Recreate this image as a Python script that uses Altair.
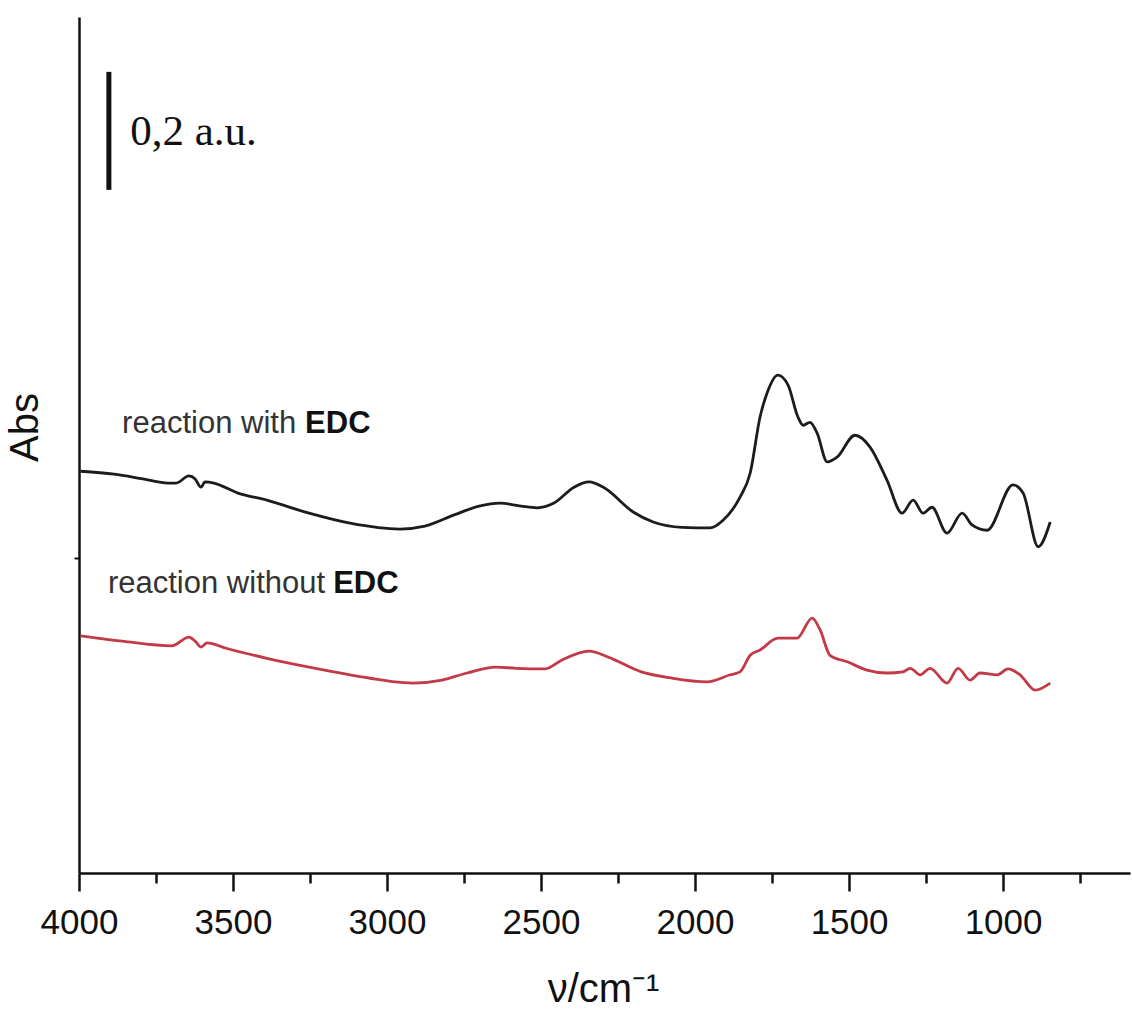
import altair as alt
import pandas as pd

# ---- data ----
black_nu = [3995, 3886, 3792, 3711, 3685, 3643, 3623, 3604, 3591, 3562, 3484, 3390, 3253, 3120,
            2958, 2877, 2782, 2701, 2633, 2565, 2513, 2458, 2393, 2344, 2295, 2201, 2136, 2042,
            1951, 1909, 1854, 1821, 1789, 1766, 1731, 1698, 1666, 1649, 1627, 1604, 1571, 1539,
            1481, 1432, 1377, 1328, 1292, 1260, 1231, 1182, 1133, 1101, 1052, 968, 935, 886, 847]
black_abs = [0.681, 0.676, 0.668, 0.661, 0.661, 0.673, 0.668, 0.654, 0.663, 0.661, 0.644, 0.632,
             0.610, 0.593, 0.583, 0.588, 0.607, 0.622, 0.627, 0.622, 0.619, 0.627, 0.654, 0.663,
             0.653, 0.612, 0.595, 0.586, 0.585, 0.598, 0.637, 0.678, 0.773, 0.814, 0.844, 0.827,
             0.773, 0.759, 0.764, 0.746, 0.697, 0.705, 0.742, 0.722, 0.666, 0.610, 0.632, 0.610,
             0.620, 0.576, 0.610, 0.590, 0.581, 0.658, 0.644, 0.553, 0.595]

red_nu = [3995, 3860, 3698, 3643, 3623, 3604, 3584, 3523, 3390, 3253, 3120, 2916, 2821, 2740,
          2646, 2581, 2487, 2432, 2344, 2282, 2175, 2081, 1961, 1886, 1854, 1821, 1789, 1731,
          1669, 1620, 1594, 1562, 1506, 1442, 1377, 1325, 1302, 1269, 1237, 1182, 1146, 1107,
          1075, 1019, 984, 945, 896, 847]
red_abs = [0.402, 0.393, 0.385, 0.400, 0.393, 0.383, 0.390, 0.381, 0.364, 0.349, 0.336, 0.322,
           0.327, 0.339, 0.349, 0.347, 0.346, 0.361, 0.376, 0.366, 0.341, 0.331, 0.324, 0.336,
           0.341, 0.369, 0.378, 0.398, 0.398, 0.432, 0.412, 0.369, 0.358, 0.344, 0.339, 0.341,
           0.347, 0.336, 0.347, 0.322, 0.347, 0.327, 0.339, 0.336, 0.346, 0.336, 0.310, 0.322]

major_ticks = [4000, 3500, 3000, 2500, 2000, 1500, 1000]
minor_ticks = [3750, 3250, 2750, 2250, 1750, 1250, 750]

label_text = ["reaction with", "reaction without"]
label_nu = [3860, 3906]
label_abs = [0.746, 0.475]
bold_text = ["EDC", "EDC"]
bold_nu = [3266, 3175]

scalebar_nu = [3903]
scalebar_lo = [1.158]
scalebar_hi = [1.358]
scalebar_text = ["0,2 a.u."]
scalebar_text_nu = [3834]
scalebar_text_abs = [1.256]

# ---- tables ----
spec = pd.DataFrame(
    {"nu": black_nu + red_nu,
     "abs": black_abs + red_abs,
     "series": ["with"] * len(black_nu) + ["without"] * len(red_nu)}
)
labels = pd.DataFrame({"nu": label_nu, "abs": label_abs, "text": label_text})
bolds = pd.DataFrame({"nu": bold_nu, "abs": label_abs, "text": bold_text})
bar = pd.DataFrame({"nu": scalebar_nu, "lo": scalebar_lo, "hi": scalebar_hi})
bar_txt = pd.DataFrame({"nu": scalebar_text_nu, "abs": scalebar_text_abs, "text": scalebar_text})
minor = pd.DataFrame({"nu": minor_ticks})

FONT = "Liberation Sans"

xscale = alt.Scale(domain=[588, 4000], reverse=True, nice=False, zero=False)
yscale = alt.Scale(domain=[0, 1.451], nice=False, zero=False)

major_axis = alt.Axis(
    values=major_ticks, format="d", grid=False, orient="bottom",
    labelFont=FONT, labelFontSize=35, labelColor="#111111", labelBaseline="alphabetic",
    labelPadding=42, labelFlush=False,
    tickSize=18, tickWidth=2.5, tickColor="#111111",
    domainColor="#111111", domainWidth=2.5,
    title="ν/cm⁻¹", titleFont=FONT, titleFontSize=40, titleFontWeight="normal",
    titleColor="#111111", titleBaseline="alphabetic", titleX=524, titleY=128,
)
minor_axis = alt.Axis(
    values=minor_ticks, labels=False, grid=False, orient="bottom", domain=False,
    tickSize=10, tickWidth=2.5, tickColor="#111111", title="",
)
y_axis = alt.Axis(
    values=[0.534], labels=False, grid=False,
    tickSize=5, tickWidth=2, tickColor="#111111",
    domainColor="#111111", domainWidth=2.5,
    title="Abs", titleFont=FONT, titleFontSize=40, titleFontWeight="normal",
    titleColor="#111111", titleAngle=270, titleBaseline="bottom", titleAlign="center",
    titleX=-34, titleY=410,
)

X = alt.X("nu:Q", scale=xscale, axis=major_axis)
Y = alt.Y("abs:Q", scale=yscale, axis=y_axis)

lines = alt.Chart(spec).mark_line(strokeWidth=2.8, interpolate="monotone").encode(
    x=X, y=Y,
    color=alt.Color("series:N",
                    scale=alt.Scale(domain=["with", "without"], range=["#1c1c1c", "#c23a47"]),
                    legend=None),
    detail="series:N",
)

txt = alt.Chart(labels).mark_text(
    align="left", baseline="alphabetic", font=FONT, fontSize=31, color="#333333"
).encode(x=alt.X("nu:Q", scale=xscale, axis=major_axis), y=Y, text="text:N")

btxt = alt.Chart(bolds).mark_text(
    align="left", baseline="alphabetic", font=FONT, fontSize=31, fontWeight="bold", color="#111111"
).encode(x=alt.X("nu:Q", scale=xscale, axis=major_axis), y=Y, text="text:N")

sbar = alt.Chart(bar).mark_rule(strokeWidth=5, color="#111111").encode(
    x=alt.X("nu:Q", scale=xscale, axis=major_axis),
    y=alt.Y("lo:Q", scale=yscale, axis=y_axis),
    y2="hi:Q",
)

stxt = alt.Chart(bar_txt).mark_text(
    align="left", baseline="middle", font="Liberation Serif", fontSize=43, color="#111111"
).encode(x=alt.X("nu:Q", scale=xscale, axis=major_axis), y=Y, text="text:N")

minor_layer = alt.Chart(minor).mark_rule(opacity=0).encode(
    x=alt.X("nu:Q", scale=xscale, axis=minor_axis)
)

main = alt.layer(lines, txt, btxt, sbar, stxt)

chart = alt.layer(main, minor_layer).resolve_axis(x="independent").properties(
    width=1051, height=856,
    padding={"left": 79, "top": 17, "right": 2, "bottom": 139},
    autosize=alt.AutoSizeParams(type="none"),
    background="white",
).configure_view(stroke=None)

chart.save("out.html", embed_options={"renderer": "svg", "actions": False})
